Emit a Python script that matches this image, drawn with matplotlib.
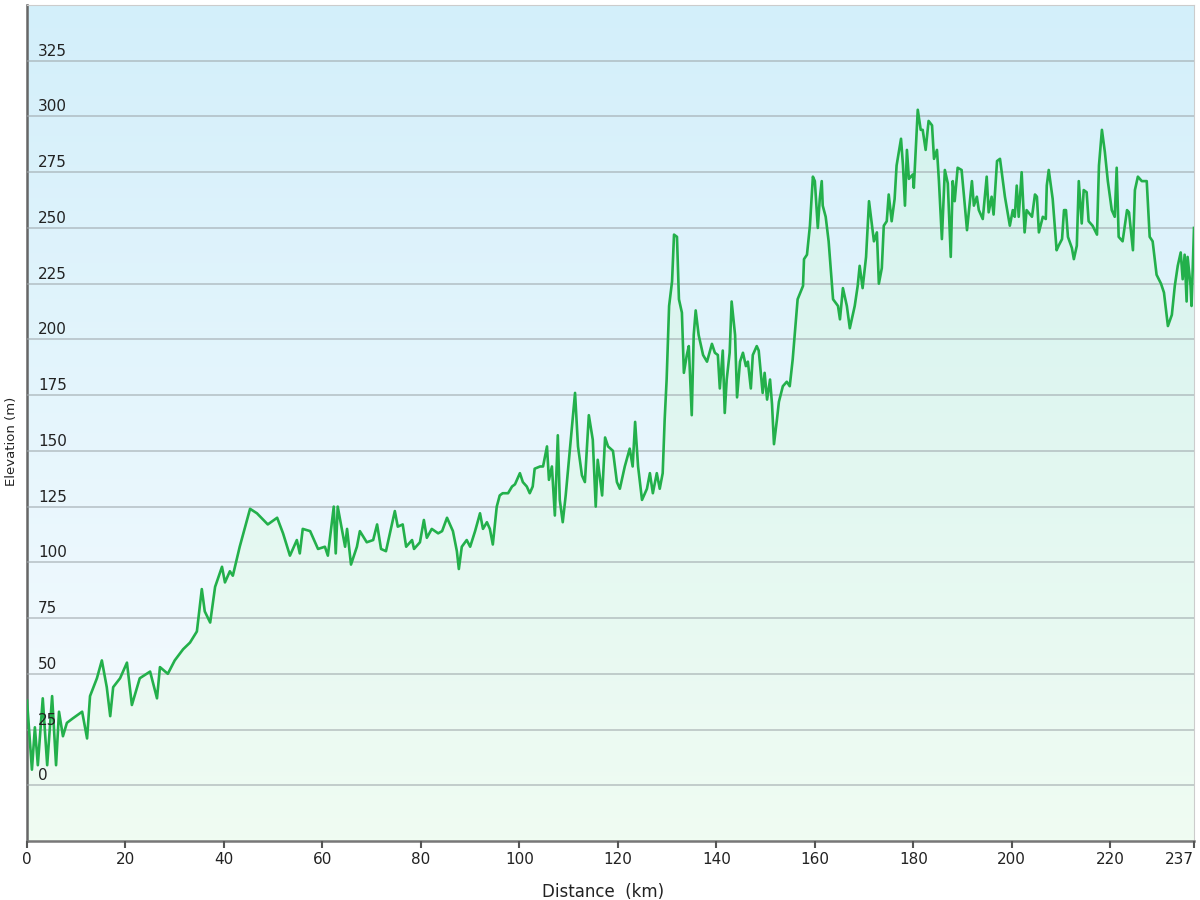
import numpy as np
import matplotlib
matplotlib.use("Agg")
import matplotlib.pyplot as plt

# elevation profile (km, m)
distance_km = [
    0.0, 1.0, 1.6, 2.2, 3.2, 4.1, 5.1, 5.9, 6.5, 7.3, 8.1, 9.3, 11.2, 12.2, 12.8,
    14.2, 15.2, 16.2, 16.9, 17.5, 18.9, 20.3, 21.3, 22.9, 25.0, 26.4, 27.0, 28.6,
    30.0, 31.7, 33.1, 34.5, 35.5, 36.1, 37.2, 38.2, 39.6, 40.2, 41.2, 41.8, 43.2,
    45.3, 46.7, 48.9, 50.8, 52.0, 53.4, 54.8, 55.4, 56.0, 57.5, 59.1, 60.5, 61.1,
    62.3, 62.7, 63.1, 64.6, 65.0, 65.8, 67.0, 67.6, 69.0, 70.3, 71.1, 71.9, 72.9,
    73.7, 74.7, 75.3, 76.3, 77.0, 78.2, 78.6, 79.8, 80.6, 81.2, 82.2, 83.5, 84.3,
    85.3, 86.5, 87.3, 87.7, 88.3, 89.3, 90.0, 91.0, 92.0, 92.6, 93.4, 94.0, 94.6,
    95.4, 96.0, 96.6, 97.7, 98.5, 99.1, 100.1, 100.7, 101.5, 102.1, 102.7, 103.1,
    104.2, 104.8, 105.6, 106.0, 106.6, 107.2, 107.8, 108.2, 108.8, 109.4, 110.3,
    111.3, 111.9, 112.7, 113.3, 114.1, 114.9, 115.5, 115.9, 116.8, 117.4, 118.0,
    119.0, 119.8, 120.4, 121.4, 122.4, 123.0, 123.5, 124.1, 124.9, 125.9, 126.5,
    127.1, 127.9, 128.5, 129.1, 129.5, 129.9, 130.4, 131.0, 131.4, 132.0, 132.4,
    133.0, 133.4, 134.0, 134.4, 135.0, 135.4, 135.8, 136.4, 137.3, 138.1, 139.1,
    139.7, 140.3, 140.7, 141.3, 141.7, 142.1, 142.7, 143.1, 143.8, 144.2, 144.8,
    145.4, 146.0, 146.4, 147.0, 147.4, 148.2, 148.6, 149.4, 149.8, 150.3, 150.9,
    151.3, 151.7, 152.3, 152.7, 153.5, 154.3, 154.9, 155.5, 156.5, 157.6, 157.8,
    158.4, 159.0, 159.6, 160.0, 160.6, 161.0, 161.4, 161.6, 162.2, 162.8, 163.7,
    164.7, 165.1, 165.7, 166.5, 167.1, 168.1, 168.7, 169.1, 169.7, 170.4, 171.0,
    171.6, 172.0, 172.6, 173.0, 173.6, 174.0, 174.6, 175.0, 175.6, 176.2, 176.6,
    177.5, 177.9, 178.3, 178.7, 179.1, 179.9, 180.1, 180.7, 180.9, 181.5, 181.9,
    182.5, 183.1, 183.8, 184.2, 184.8, 185.2, 185.8, 186.4, 187.0, 187.6, 188.0,
    188.4, 189.0, 189.8, 190.3, 190.9, 191.9, 192.3, 192.9, 193.3, 194.1, 194.9,
    195.3, 195.9, 196.3, 197.0, 197.6, 198.6, 199.6, 200.2, 200.6, 201.0, 201.4,
    202.0, 202.6, 203.0, 204.1, 204.7, 205.1, 205.5, 206.3, 206.9, 207.1, 207.5,
    208.3, 209.1, 209.5, 210.2, 210.6, 211.0, 211.4, 212.2, 212.6, 213.2, 213.6,
    214.2, 214.6, 215.2, 215.6, 216.4, 217.3, 217.7, 218.3, 218.9, 219.5, 220.3,
    220.9, 221.3, 221.7, 222.5, 223.4, 223.8, 224.6, 225.0, 225.6, 226.4, 227.4,
    228.0, 228.6, 229.4, 230.3, 230.9, 231.7, 232.5, 233.1, 233.7, 234.3, 234.7,
    235.1, 235.5, 235.7, 236.3, 236.5, 237.0,
]
elevation_m = [
    38, 7, 26, 9, 39, 9, 40, 9, 33, 22, 28, 30, 33, 21, 40,
    48, 56, 44, 31, 44, 48, 55, 36, 48, 51, 39, 53, 50,
    56, 61, 64, 69, 88, 78, 73, 89, 98, 91, 96, 94, 107,
    124, 122, 117, 120, 113, 103, 110, 104, 115, 114, 106, 107, 103,
    125, 104, 125, 107, 115, 99, 107, 114, 109, 110, 117, 106, 105,
    113, 123, 116, 117, 107, 110, 106, 109, 119, 111, 115, 113, 114,
    120, 114, 105, 97, 107, 110, 107, 114, 122, 115, 118, 115, 108,
    125, 130, 131, 131, 134, 135, 140, 136, 134, 131, 134, 142,
    143, 143, 152, 137, 143, 121, 157, 128, 118, 130, 152,
    176, 152, 139, 136, 166, 155, 125, 146, 130, 156, 152,
    150, 136, 133, 143, 151, 143, 163, 143, 128, 133, 140,
    131, 140, 133, 140, 164, 182, 215, 226, 247, 246, 218,
    212, 185, 193, 197, 166, 202, 213, 202, 193, 190, 198,
    194, 193, 178, 195, 167, 182, 194, 217, 202, 174, 190,
    194, 188, 190, 178, 193, 197, 195, 176, 185, 173, 182,
    171, 153, 164, 172, 179, 181, 179, 191, 218, 224, 236,
    238, 251, 273, 271, 250, 263, 271, 260, 255, 244, 218,
    215, 209, 223, 215, 205, 215, 224, 233, 223, 237, 262,
    251, 244, 248, 225, 232, 251, 253, 265, 253, 263, 278,
    290, 278, 260, 285, 272, 274, 268, 294, 303, 294, 294,
    285, 298, 296, 281, 285, 271, 245, 276, 270, 237, 271,
    262, 277, 276, 264, 249, 271, 260, 264, 258, 254, 273,
    257, 264, 256, 280, 281, 264, 251, 258, 255, 269, 255,
    275, 248, 258, 255, 265, 264, 248, 255, 254, 269, 276,
    263, 240, 242, 245, 258, 258, 246, 241, 236, 242, 271,
    252, 267, 266, 253, 251, 247, 278, 294, 284, 271, 258,
    255, 277, 246, 244, 258, 257, 240, 267, 273, 271, 271,
    246, 244, 229, 225, 221, 206, 211, 224, 233, 239, 227,
    238, 217, 237, 224, 215, 250,
]

x_ticks = [0, 20, 40, 60, 80, 100, 120, 140, 160, 180, 200, 220, 237]
y_ticks = [0, 25, 50, 75, 100, 125, 150, 175, 200, 225, 250, 275, 300, 325]

fig = plt.figure(figsize=(12, 9), dpi=100)
ax = fig.add_axes([27 / 1200, 1 - 841 / 900, 1167 / 1200, 836 / 900])

# background: light blue fading to almost white
top = np.array([211, 239, 250]) / 255
bottom = np.array([248, 252, 255]) / 255
t = np.linspace(0, 1, 256)[:, None]
grad = (top * (1 - t) + bottom * t)[:, None, :]
ax.imshow(grad, extent=[0, 237, -25, 350], aspect="auto", zorder=0)

# mint tint under the profile
ax.fill_between(distance_km, elevation_m, -25, color="#c8ffb4", alpha=0.16,
                linewidth=0, zorder=1)
ax.plot(distance_km, elevation_m, color="#23b04b", linewidth=1.9, zorder=3)

ax.set_xlim(0, 237)
ax.set_ylim(-25, 350)

ax.set_yticks(y_ticks)
ax.set_yticklabels([])
ax.tick_params(axis="y", length=0)
ax.grid(axis="y", color="#9ea7ab", alpha=0.55, linewidth=1.4, zorder=2)
ax.set_axisbelow(False)

for v in y_ticks:
    ax.annotate(str(v), xy=(0, v), xycoords=("axes fraction", "data"),
                xytext=(11, 5), textcoords="offset pixels",
                ha="left", va="baseline", fontsize=11, color="#222222", zorder=4)

ax.set_xticks(x_ticks)
ax.set_xticklabels([str(v) for v in x_ticks], fontsize=11, color="#222222")
ax.get_xticklabels()[-1].set_horizontalalignment("right")
ax.tick_params(axis="x", direction="out", length=5, width=1.5, color="#555555", pad=3)

ax.spines["left"].set_color("#666666")
ax.spines["left"].set_linewidth(1.8)
ax.spines["bottom"].set_color("#777777")
ax.spines["bottom"].set_linewidth(1.8)
ax.spines["top"].set_color("#cccccc")
ax.spines["right"].set_color("#cccccc")

ax.set_xlabel("Distance  (km)", fontsize=12, color="#222222")
ax.xaxis.set_label_coords(0.494, -0.050)
ax.set_ylabel("Elevation (m)", fontsize=9.5, color="#222222")
ax.yaxis.set_label_coords(-0.0075, 0.478)

fig.savefig("out.png", dpi=100)
